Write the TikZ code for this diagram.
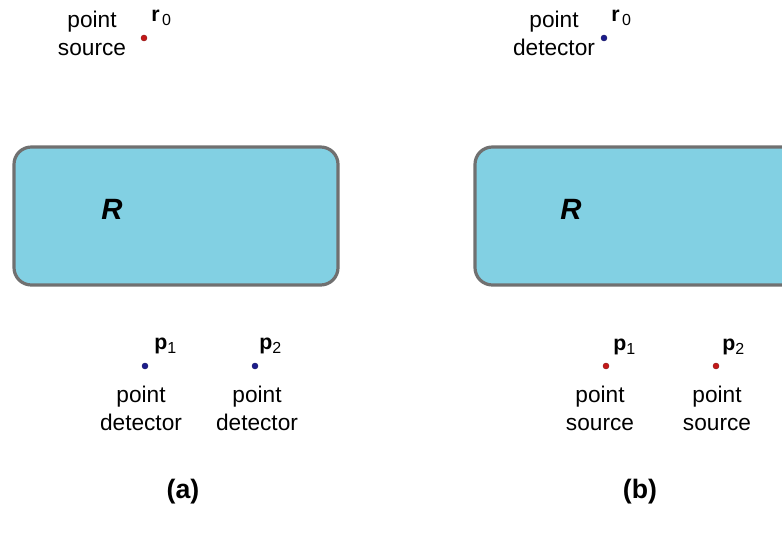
\documentclass[tikz,border=0pt]{standalone}
\usepackage{fontspec}
\setmainfont{Liberation Sans}
\begin{document}
\begin{tikzpicture}[x=0.75pt,y=-0.75pt,
  region/.style={draw=black!56,line width=2.4pt,fill=regionblue,rounded corners=13pt},
  lbl/.style={font=\fontsize{17}{20}\selectfont,align=center,inner sep=0pt},
  veclbl/.style={font=\fontsize{16}{20}\selectfont,inner sep=0pt,anchor=west},
  srcdot/.style={circle,fill=srcred,draw=srcred!70!black,line width=0.3pt,inner sep=0pt,minimum size=4.5pt},
  detdot/.style={circle,fill=detblue,draw=detblue!70!black,line width=0.3pt,inner sep=0pt,minimum size=4.5pt},
  rlbl/.style={font=\fontsize{22}{26}\selectfont\bfseries\itshape,inner sep=0pt},
  caplbl/.style={font=\fontsize{20}{24}\selectfont\bfseries,inner sep=0pt}]
\definecolor{regionblue}{HTML}{82D0E3}
\definecolor{srcred}{HTML}{C41818}
\definecolor{detblue}{HTML}{1C1C8C}
\newcommand{\vecsub}[2]{{\bfseries #1}\raisebox{-0.35ex}{\fontsize{12}{14}\selectfont #2}}
\useasboundingbox (0,0) rectangle (782,535);
\clip (0,0) rectangle (782,535);

% ---- panel (a) ----
\node[lbl] (asrc) at (92,33) {point\\[1pt]source};
\node[srcdot] (ar0) at (144,38) {};
\node[veclbl] (ar0l) at (151,18) {\vecsub{r}{\,0}};
\draw[region] (14,147) rectangle (338,285);
\node[rlbl] (aR) at (112,209) {R};
\node[detdot] (ap1) at (145,366) {};
\node[veclbl] (ap1l) at (154,346) {\vecsub{p}{1}};
\node[lbl] (ad1) at (141,408) {point\\[1pt]detector};
\node[detdot] (ap2) at (255,366) {};
\node[veclbl] (ap2l) at (259,346) {\vecsub{p}{2}};
\node[lbl] (ad2) at (257,408) {point\\[1pt]detector};
\node[caplbl] (acap) at (183,492) {(a)};

% ---- panel (b) ----
\node[lbl] (bdet) at (554,33) {point\\[1pt]detector};
\node[detdot] (br0) at (604,38) {};
\node[veclbl] (br0l) at (611,18) {\vecsub{r}{\,0}};
\draw[region] (475,147) rectangle (820,285);
\node[rlbl] (bR) at (571,209) {R};
\node[srcdot] (bp1) at (606,366) {};
\node[veclbl] (bp1l) at (613,347) {\vecsub{p}{1}};
\node[lbl] (bs1) at (600,408) {point\\[1pt]source};
\node[srcdot] (bp2) at (716,366) {};
\node[veclbl] (bp2l) at (722,347) {\vecsub{p}{2}};
\node[lbl] (bs2) at (717,408) {point\\[1pt]source};
\node[caplbl] (bcap) at (640,492) {(b)};
\end{tikzpicture}
\end{document}
